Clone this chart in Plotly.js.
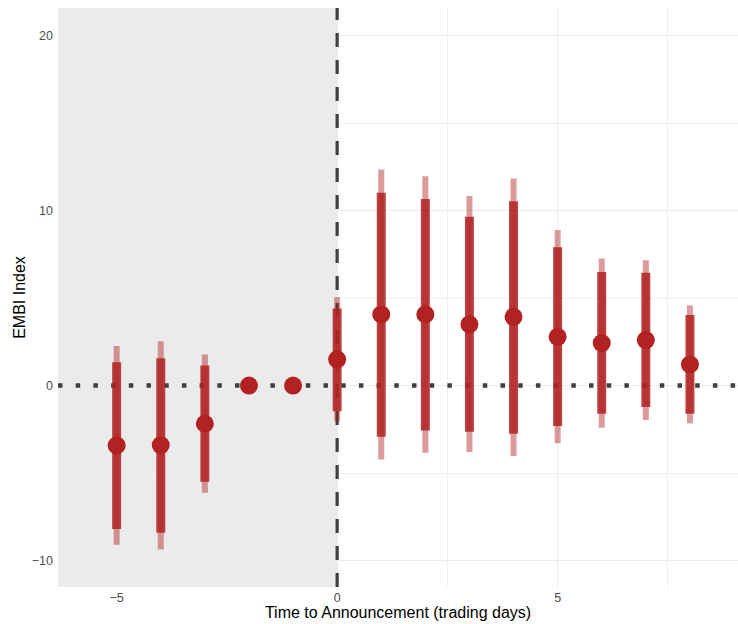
<!DOCTYPE html>
<html>
<head>
<meta charset="utf-8">
<script src="https://cdn.plot.ly/plotly-3.0.1.min.js"></script>
<style>html,body{margin:0;padding:0;background:#fff;}#chart{width:738px;height:624px;}</style>
</head>
<body>
<div id="chart"></div>
<script>
// Data
const days     = [-5, -4, -3, -2, -1, 0, 1, 2, 3, 4, 5, 6, 7, 8];
const estimate = [-3.42, -3.40, -2.18, 0, 0, 1.50, 4.07, 4.07, 3.50, 3.93, 2.79, 2.43, 2.60, 1.21];
const innerLo  = [-8.20, -8.41, -5.50, null, null, -1.46, -2.92, -2.56, -2.64, -2.75, -2.31, -1.61, -1.23, -1.61];
const innerHi  = [1.34, 1.57, 1.15, null, null, 4.41, 11.02, 10.67, 9.65, 10.54, 7.91, 6.49, 6.45, 4.03];
const outerLo  = [-9.10, -9.36, -6.13, null, null, -2.03, -4.22, -3.84, -3.80, -4.03, -3.29, -2.41, -1.97, -2.16];
const outerHi  = [2.26, 2.54, 1.78, null, null, 5.06, 12.35, 11.97, 10.83, 11.84, 8.89, 7.27, 7.17, 4.58];
const xRange   = [-6.33, 9.09];
const yRange   = [-11.51, 21.58];
const announcementDay = 0;
const baseline = 0;

function segments(xs, lo, hi) {
  const x = [], y = [];
  xs.forEach((d, i) => {
    if (lo[i] === null || hi[i] === null) return;
    x.push(d, d, null);
    y.push(lo[i], hi[i], null);
  });
  return {x, y};
}

const outer = segments(days, outerLo, outerHi);
const inner = segments(days, innerLo, innerHi);

const traces = [
  {x: xRange, y: [baseline, baseline], type: 'scatter', mode: 'lines', hoverinfo: 'skip',
   line: {color: '#3f3f3f', width: 4.5, dash: '4.5px,13.2px'}, showlegend: false},
  {x: [announcementDay, announcementDay], y: yRange, type: 'scatter', mode: 'lines', hoverinfo: 'skip',
   line: {color: '#3f3f3f', width: 3.2, dash: '14px,13px'}, showlegend: false},
  {x: outer.x, y: outer.y, type: 'scatter', mode: 'lines', hoverinfo: 'skip',
   line: {color: 'rgba(178,34,34,0.45)', width: 6}, showlegend: false},
  {x: inner.x, y: inner.y, type: 'scatter', mode: 'lines', hoverinfo: 'skip',
   line: {color: 'rgba(178,34,34,0.85)', width: 9}, showlegend: false},
  {x: days, y: estimate, type: 'scatter', mode: 'markers',
   marker: {color: '#b22222', size: 18}, showlegend: false}
];

const font = 'Liberation Sans, Arial, Helvetica, sans-serif';
const layout = {
  width: 738, height: 624,
  margin: {l: 58, r: 0, t: 8, b: 37},
  paper_bgcolor: '#ffffff', plot_bgcolor: '#ffffff',
  font: {family: font, color: '#000'},
  xaxis: {
    range: xRange, dtick: 5, tick0: 0,
    showgrid: true, gridcolor: '#ebebeb', gridwidth: 1,
    minor: {dtick: 2.5, tick0: 0, showgrid: true, gridcolor: '#f0f0f0', gridwidth: 1},
    zeroline: false, showline: false, ticks: '',
    ticklabelstandoff: 1,
    tickfont: {size: 12.5, color: '#4d4d4d', family: font},
    title: {text: 'Time to Announcement (trading days)', font: {size: 16, color: '#000', family: font}, standoff: 0}
  },
  yaxis: {
    range: yRange, dtick: 10, tick0: 0,
    showgrid: true, gridcolor: '#ebebeb', gridwidth: 1,
    minor: {dtick: 5, tick0: 0, showgrid: true, gridcolor: '#f0f0f0', gridwidth: 1},
    zeroline: false, showline: false, ticks: '',
    ticklabelstandoff: 4,
    tickfont: {size: 12.5, color: '#4d4d4d', family: font},
    title: {text: 'EMBI Index', font: {size: 16, color: '#000', family: font}, standoff: 2}
  },
  shapes: [
    {type: 'rect', xref: 'x', yref: 'paper', x0: -20, x1: 0, y0: 0, y1: 1,
     fillcolor: '#ebebeb', line: {width: 0}, layer: 'between'}
  ]
};

Plotly.newPlot('chart', traces, layout, {displayModeBar: false, staticPlot: true});
</script>
</body>
</html>
